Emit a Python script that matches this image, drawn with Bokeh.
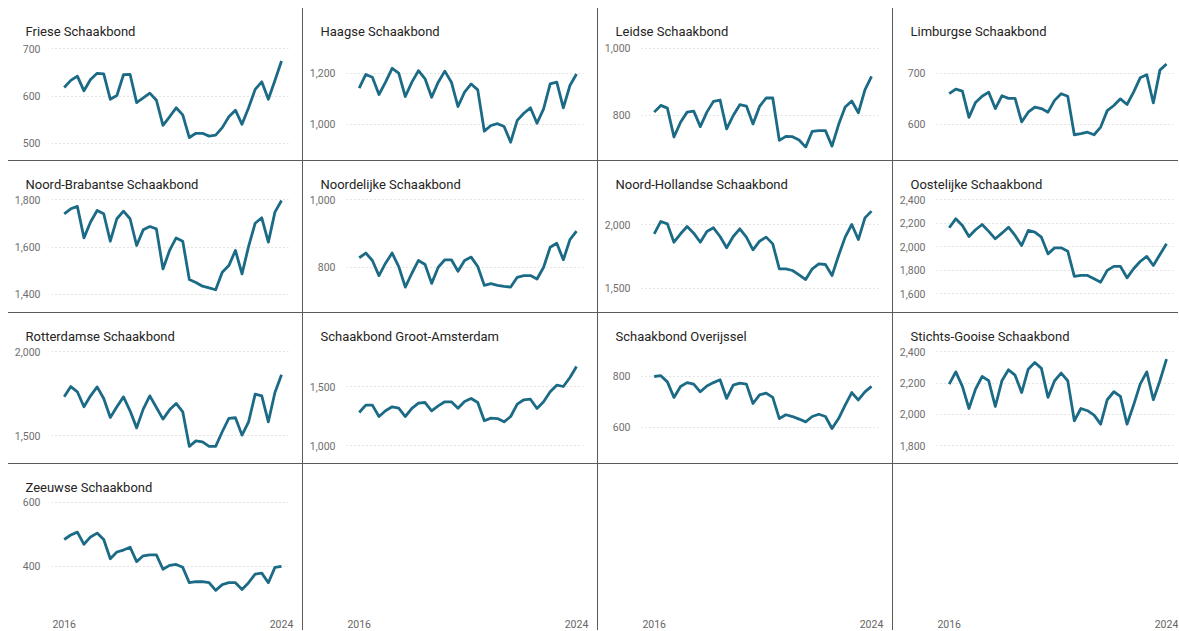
from bokeh.plotting import figure
from bokeh.models import GridBox, Spacer, Range1d, SingleIntervalTicker, FixedTicker, NumeralTickFormatter, ColumnDataSource
from bokeh.embed import file_html
from bokeh.resources import INLINE

# quarterly periods 2016-Q1 .. 2024-Q2
periods = [f"{y}-Q{q}" for y in range(2016, 2025) for q in range(1, 5)][:34]
x_tick_labels = ["2016", "2024"]

friese = [618, 633, 642, 611, 635, 648, 647, 593, 601, 645, 646, 586, 596, 606, 591, 538, 556,
          575, 560, 512, 521, 521, 515, 517, 533, 556, 570, 540, 575, 614, 630, 593, 633, 674]
haagse = [1142, 1195, 1184, 1117, 1165, 1219, 1200, 1109, 1165, 1210, 1178, 1106, 1165, 1208, 1165, 1070, 1126,
          1158, 1135, 974, 996, 1003, 992, 931, 1016, 1044, 1065, 1005, 1061, 1158, 1165, 1065, 1152, 1197]
leidse = [810, 830, 822, 736, 780, 810, 813, 767, 810, 842, 846, 760, 800, 832, 828, 775, 827,
          852, 852, 726, 738, 737, 727, 706, 753, 755, 755, 709, 773, 825, 843, 808, 876, 916]
limburgse = [660, 669, 665, 614, 643, 655, 663, 631, 656, 651, 651, 605, 624, 634, 631, 624, 647,
             660, 655, 580, 582, 585, 580, 595, 627, 637, 650, 639, 663, 691, 697, 642, 706, 718]
noord_brabantse = [1741, 1762, 1772, 1639, 1706, 1755, 1741, 1625, 1720, 1752, 1720, 1607, 1673, 1687, 1677, 1508, 1586,
                   1639, 1625, 1463, 1451, 1435, 1428, 1420, 1494, 1522, 1586, 1487, 1603, 1701, 1724, 1621, 1748, 1797]
noordelijke = [828, 842, 820, 775, 812, 842, 802, 741, 782, 820, 808, 752, 800, 822, 822, 788, 820,
               830, 802, 746, 751, 746, 743, 741, 770, 775, 775, 765, 800, 859, 871, 822, 882, 907]
noord_hollandse = [1927, 2024, 2005, 1861, 1927, 1984, 1932, 1861, 1945, 1974, 1906, 1817, 1906, 1966, 1901, 1801, 1869,
                   1901, 1848, 1652, 1652, 1639, 1605, 1568, 1652, 1691, 1686, 1599, 1757, 1901, 2000, 1882, 2052, 2105]
oostelijke = [2162, 2238, 2182, 2088, 2145, 2190, 2131, 2068, 2116, 2167, 2097, 2011, 2139, 2125, 2082, 1940, 1991,
              1991, 1963, 1748, 1756, 1756, 1728, 1699, 1799, 1833, 1833, 1736, 1813, 1875, 1918, 1841, 1935, 2026]
rotterdamse = [1731, 1792, 1761, 1672, 1737, 1790, 1721, 1609, 1672, 1731, 1648, 1547, 1658, 1737, 1668, 1599, 1654,
               1692, 1642, 1437, 1470, 1464, 1437, 1437, 1524, 1603, 1607, 1504, 1583, 1747, 1737, 1583, 1757, 1862]
groot_amsterdam = [1281, 1343, 1343, 1247, 1295, 1329, 1317, 1247, 1315, 1360, 1365, 1295, 1337, 1371, 1371, 1317, 1374,
                   1399, 1365, 1211, 1233, 1230, 1202, 1247, 1351, 1388, 1393, 1315, 1371, 1455, 1511, 1500, 1576, 1669]
overijssel = [800, 803, 779, 718, 761, 776, 770, 740, 763, 776, 787, 714, 766, 774, 770, 694, 728,
              735, 718, 635, 650, 643, 633, 622, 643, 652, 643, 596, 635, 688, 737, 708, 740, 761]
stichts_gooise = [2194, 2272, 2179, 2038, 2162, 2243, 2215, 2051, 2215, 2285, 2251, 2140, 2289, 2332, 2294, 2109, 2215,
                  2264, 2215, 1960, 2038, 2024, 1996, 1938, 2094, 2145, 2115, 1938, 2060, 2194, 2272, 2094, 2215, 2353]
zeeuwse = [484, 498, 507, 469, 492, 504, 484, 424, 445, 451, 460, 415, 433, 436, 436, 391, 403,
           406, 397, 349, 352, 352, 349, 325, 343, 349, 349, 328, 349, 376, 379, 349, 397, 400]

panels = [
    ("Friese Schaakbond", friese),
    ("Haagse Schaakbond", haagse),
    ("Leidse Schaakbond", leidse),
    ("Limburgse Schaakbond", limburgse),
    ("Noord-Brabantse Schaakbond", noord_brabantse),
    ("Noordelijke Schaakbond", noordelijke),
    ("Noord-Hollandse Schaakbond", noord_hollandse),
    ("Oostelijke Schaakbond", oostelijke),
    ("Rotterdamse Schaakbond", rotterdamse),
    ("Schaakbond Groot-Amsterdam", groot_amsterdam),
    ("Schaakbond Overijssel", overijssel),
    ("Stichts-Gooise Schaakbond", stichts_gooise),
    ("Zeeuwse Schaakbond", zeeuwse),
]

# axis configuration (range and tick interval per panel)
y_axes = [
    (488.8, 711.2, 100), (906.4, 1315.8, 200), (701.9, 1014.0, 200), (553.2, 757.9, 100),
    (1370.4, 1813.9, 200), (698.2, 1009.8, 200), (1395.6, 2219.8, 500), (1534.5, 2428.0, 200),
    (1395.0, 2017.8, 500), (935.1, 1820.4, 500), (498.0, 909.8, 200), (1750.9, 2421.0, 200),
    (274.6, 609.0, 200),
]

COL_W = [294, 294, 294, 285]
ROW_H = [152, 151, 150, 166]
FRAME_W = 237
FRAME_H = [105, 105, 105, 112]
TOP = 35
LEFT = 43
LINE_COLOR = "#1b6a86"
SEP_COLOR = "#5a5a5a"
n = len(periods)
X_RANGE = (-1.93, n - 1 + 1.06)


def base_fig(row, col):
    w, h = COL_W[col], ROW_H[row]
    p = figure(width=w, height=h, output_backend="svg", toolbar_location=None, tools="",
               x_range=Range1d(*X_RANGE),
               min_border_left=LEFT, min_border_right=w - LEFT - FRAME_W,
               min_border_top=TOP, min_border_bottom=h - TOP - FRAME_H[row],
               background_fill_color="white", border_fill_color="white")
    p.outline_line_color = None
    p.xgrid.visible = False
    ax = p.xaxis[0]
    if row == 3:
        ax.ticker = FixedTicker(ticks=[0, n - 1])
        ax.major_label_overrides = {0: x_tick_labels[0], n - 1: x_tick_labels[1]}
        ax.axis_line_color = None
        ax.major_tick_line_color = None
        ax.minor_tick_line_color = None
        ax.major_label_standoff = 7
        ax.major_label_text_font = "Roboto"
        ax.major_label_text_font_size = "10.5px"
        ax.major_label_text_color = "#666666"
    else:
        ax.visible = False
    return p


children = []
for i, (title, vals) in enumerate(panels):
    row, col = divmod(i, 4)
    y0, y1, step = y_axes[i]
    p = base_fig(row, col)
    p.y_range = Range1d(y0, y1)
    ticker = SingleIntervalTicker(interval=step, num_minor_ticks=0)
    ya = p.yaxis[0]
    ya.ticker = ticker
    ya.formatter = NumeralTickFormatter(format="0,0")
    ya.axis_line_color = None
    ya.major_tick_line_color = None
    ya.minor_tick_line_color = None
    ya.major_label_standoff = 5
    ya.major_label_text_font = "Roboto"
    ya.major_label_text_font_size = "10.5px"
    ya.major_label_text_color = "#6e6e6e"
    p.ygrid.ticker = ticker
    p.ygrid.grid_line_color = "#c8c8c8"
    p.ygrid.grid_line_dash = "1 3"
    p.ygrid.grid_line_width = 1
    p.title.text = title
    p.title.align = "left"
    p.title.offset = -26
    p.title.standoff = 9
    p.title.text_font = "Roboto"
    p.title.text_font_size = "13px"
    p.title.text_font_style = "normal"
    p.title.text_color = "#252423"
    src = ColumnDataSource(dict(x=list(range(n)), y=vals, period=periods))
    p.line("x", "y", source=src, line_color=LINE_COLOR, line_width=2.8, line_join="round")
    children.append((p, 2 * row, 2 * col))

for col in range(1, 4):
    p = base_fig(3, col)
    p.y_range = Range1d(0, 1)
    p.yaxis.visible = False
    p.ygrid.visible = False
    children.append((p, 6, 2 * col))

# 1px separator cells between the panels
for r in range(4):
    for c in range(3):
        children.append((Spacer(width=1, height=ROW_H[r], styles={"background-color": SEP_COLOR}), 2 * r, 2 * c + 1))
for r in range(3):
    for c in range(4):
        children.append((Spacer(width=COL_W[c], height=1, styles={"background-color": SEP_COLOR}), 2 * r + 1, 2 * c))
    for c in range(3):
        children.append((Spacer(width=1, height=1, styles={"background-color": SEP_COLOR}), 2 * r + 1, 2 * c + 1))

grid = GridBox(children=children, spacing=0, margin=(8, 0, 0, 8))

open("out.html", "w").write(file_html(grid, INLINE))
